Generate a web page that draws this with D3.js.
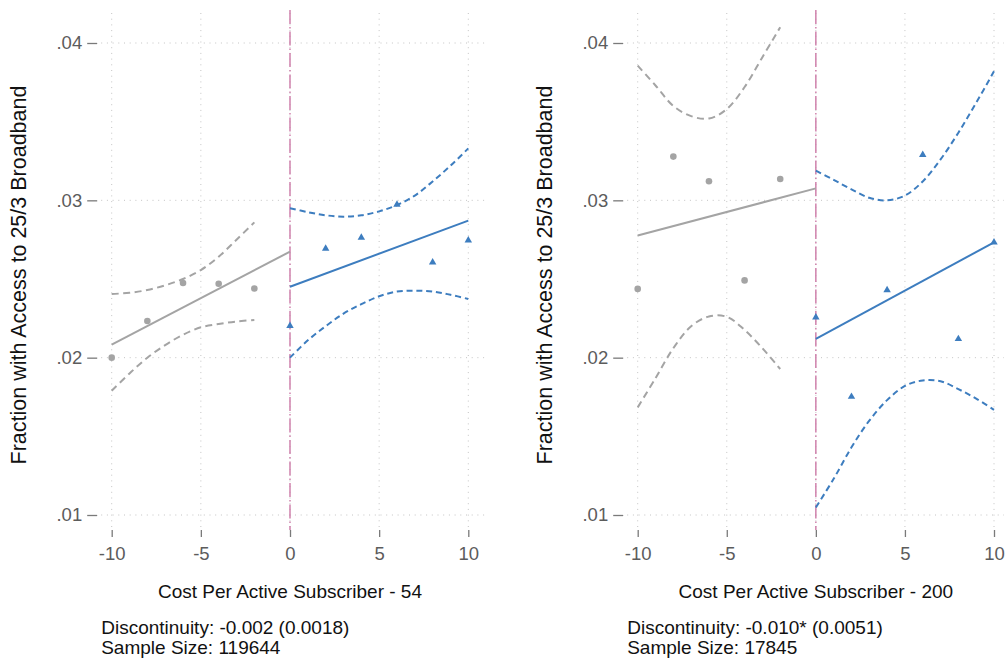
<!DOCTYPE html>
<html>
<head>
<meta charset="utf-8">
<script src="https://cdn.jsdelivr.net/npm/d3@7"></script>
<style>
  html, body { margin: 0; padding: 0; background: #fff; }
  svg { display: block; }
  text { font-family: "Liberation Sans", Arial, Helvetica, sans-serif; }
</style>
</head>
<body>
<svg id="chart" width="1007" height="661"></svg>
<script>
// ---- data ----------------------------------------------------------------
const xTicks = [-10, -5, 0, 5, 10];
const xTickLabels = ["-10", "-5", "0", "5", "10"];
const yTicks = [0.01, 0.02, 0.03, 0.04];
const yTickLabels = [".01", ".02", ".03", ".04"];

const binsBelow = [-10, -8, -6, -4, -2];
const binsAbove = [0, 2, 4, 6, 8, 10];

// Panel A: cost threshold 54
const aMeansBelow = [0.0200, 0.02233, 0.02475, 0.0247, 0.0244];
const aMeansAbove = [0.02203, 0.02693, 0.02763, 0.02973, 0.02606, 0.02746];
const aFitBelow = [[-10, 0.02083], [0, 0.02674]];
const aFitAbove = [[0, 0.02451], [10, 0.02871]];
const aCiBelowX = [-10, -9, -8, -7, -6, -5, -4, -3, -2];
const aCiBelowHi = [0.02405, 0.02412, 0.0243, 0.0246, 0.0250, 0.02557, 0.02642, 0.0275, 0.0286];
const aCiBelowLo = [0.0179, 0.0190, 0.0200, 0.0208, 0.02146, 0.02193, 0.02214, 0.0223, 0.0224];
const aCiAboveX = [0, 1, 2, 3, 4, 5, 6, 7, 8, 9, 10];
const aCiAboveHi = [0.0295, 0.02925, 0.02905, 0.02896, 0.02905, 0.0293, 0.0297, 0.0303, 0.0312, 0.0322, 0.0333];
const aCiAboveLo = [0.0200, 0.0211, 0.0220, 0.0228, 0.0234, 0.0239, 0.0242, 0.02426, 0.0242, 0.0240, 0.02373];

// Panel B: cost threshold 200
const bMeansBelow = [0.02437, 0.03278, 0.03121, 0.02491, 0.03136];
const bMeansAbove = [0.02256, 0.01752, 0.0243, 0.03289, 0.02119, 0.02733];
const bFitBelow = [[-10, 0.02776], [0, 0.03076]];
const bFitAbove = [[0, 0.02119], [10, 0.02733]];
const bCiBelowX = [-10, -9, -8, -7, -6, -5, -4, -3, -2];
const bCiBelowHi = [0.03856, 0.0373, 0.0360, 0.03535, 0.0352, 0.0358, 0.0372, 0.0391, 0.0410];
const bCiBelowLo = [0.01684, 0.0187, 0.0206, 0.0220, 0.02262, 0.0226, 0.02176, 0.0206, 0.01928];
const bCiAboveX = [0, 1, 2, 3, 4, 5, 6, 7, 8, 9, 10];
const bCiAboveHi = [0.03189, 0.0313, 0.0307, 0.03016, 0.0300, 0.0303, 0.0312, 0.0326, 0.0343, 0.0362, 0.0382];
const bCiAboveLo = [0.01048, 0.0123, 0.0143, 0.0160, 0.0173, 0.0182, 0.01855, 0.0185, 0.0180, 0.0174, 0.01668];

const xTitles = ["Cost Per Active Subscriber - 54", "Cost Per Active Subscriber - 200"];
const yTitle = "Fraction with Access to 25/3 Broadband";
const noteLines = [
  ["Discontinuity: -0.002 (0.0018)", "Sample Size: 119644"],
  ["Discontinuity: -0.010* (0.0051)", "Sample Size: 17845"]
];

// ---- style ---------------------------------------------------------------
const GRAY = "#a4a4a4";
const BLUE = "#3d7dbf";
const CUTOFF = "#cc79a7";
const GRID = "#c4c4c4";
const TICK_TEXT = "#5c5c5c";

const svg = d3.select("#chart");

const panels = [
  {
    x0: 111.7, x1: 468.3,
    below: aMeansBelow, above: aMeansAbove,
    fitBelow: aFitBelow, fitAbove: aFitAbove,
    ciBX: aCiBelowX, ciBHi: aCiBelowHi, ciBLo: aCiBelowLo,
    ciAX: aCiAboveX, ciAHi: aCiAboveHi, ciALo: aCiAboveLo,
    xTitle: xTitles[0], notes: noteLines[0]
  },
  {
    x0: 637.7, x1: 994,
    below: bMeansBelow, above: bMeansAbove,
    fitBelow: bFitBelow, fitAbove: bFitAbove,
    ciBX: bCiBelowX, ciBHi: bCiBelowHi, ciBLo: bCiBelowLo,
    ciAX: bCiAboveX, ciAHi: bCiAboveHi, ciALo: bCiAboveLo,
    xTitle: xTitles[1], notes: noteLines[1]
  }
];

panels.forEach(p => {
  const x = d3.scaleLinear().domain([-10, 10]).range([p.x0, p.x1]);
  const y = d3.scaleLinear().domain([0.01, 0.04]).range([515, 43]);
  const left = p.x0 - 10.5;
  const right = Math.min(p.x1 + 17, 1004);
  const top = 10, bottom = 530;

  const g = svg.append("g");

  // dotted grid
  g.append("g").selectAll("line").data(yTicks).join("line")
    .attr("x1", left).attr("x2", right)
    .attr("y1", d => y(d)).attr("y2", d => y(d))
    .attr("stroke", GRID).attr("stroke-width", 1)
    .attr("stroke-dasharray", "1,4.7");
  g.append("g").selectAll("line").data(xTicks).join("line")
    .attr("x1", d => x(d)).attr("x2", d => x(d))
    .attr("y1", top + 3).attr("y2", bottom - 3)
    .attr("stroke", GRID).attr("stroke-width", 1)
    .attr("stroke-dasharray", "1,4.7");

  // y axis
  const yAxis = d3.axisLeft(y).tickValues(yTicks)
    .tickFormat((d, i) => yTickLabels[i]).tickSize(10).tickPadding(5);
  const ya = g.append("g").attr("transform", `translate(${left - 4},0)`).call(yAxis);
  ya.select(".domain").remove();
  ya.selectAll(".tick line").attr("stroke", "#7a7a7a").attr("stroke-width", 1.3);
  ya.selectAll(".tick text").attr("fill", TICK_TEXT).attr("font-size", 18.5)
    .attr("font-family", "Liberation Sans, Arial, sans-serif");

  // x axis
  const xAxis = d3.axisBottom(x).tickValues(xTicks)
    .tickFormat((d, i) => xTickLabels[i]).tickSize(7).tickPadding(10);
  const xa = g.append("g").attr("transform", `translate(0,${bottom})`).call(xAxis);
  xa.select(".domain").remove();
  xa.selectAll(".tick line").attr("stroke", "#7a7a7a").attr("stroke-width", 1.3);
  xa.selectAll(".tick text").attr("fill", TICK_TEXT).attr("font-size", 18.5)
    .attr("font-family", "Liberation Sans, Arial, sans-serif");

  // cutoff line
  g.append("line")
    .attr("x1", x(0)).attr("x2", x(0)).attr("y1", top).attr("y2", bottom)
    .attr("stroke", CUTOFF).attr("stroke-width", 1.4)
    .attr("stroke-dasharray", "14,3,1.5,3");

  const curve = d3.line().x(d => x(d[0])).y(d => y(d[1])).curve(d3.curveCatmullRom.alpha(0.5));
  const straight = d3.line().x(d => x(d[0])).y(d => y(d[1]));

  // confidence bands
  const ciSets = [
    { xs: p.ciBX, ys: p.ciBHi, c: GRAY, dash: "7,4.5" },
    { xs: p.ciBX, ys: p.ciBLo, c: GRAY, dash: "7,4.5" },
    { xs: p.ciAX, ys: p.ciAHi, c: BLUE, dash: "6,3.8" },
    { xs: p.ciAX, ys: p.ciALo, c: BLUE, dash: "6,3.8" }
  ];
  ciSets.forEach(s => {
    g.append("path")
      .attr("d", curve(s.xs.map((v, i) => [v, s.ys[i]])))
      .attr("fill", "none").attr("stroke", s.c).attr("stroke-width", 2)
      .attr("stroke-dasharray", s.dash);
  });

  // fitted lines
  g.append("path").attr("d", straight(p.fitBelow))
    .attr("fill", "none").attr("stroke", GRAY).attr("stroke-width", 2);
  g.append("path").attr("d", straight(p.fitAbove))
    .attr("fill", "none").attr("stroke", BLUE).attr("stroke-width", 2);

  // binned means
  g.append("g").selectAll("circle").data(binsBelow.map((b, i) => [b, p.below[i]])).join("circle")
    .attr("cx", d => x(d[0])).attr("cy", d => y(d[1])).attr("r", 3.3)
    .attr("fill", GRAY);
  const tri = d3.symbol().type(d3.symbolTriangle).size(24);
  g.append("g").selectAll("path").data(binsAbove.map((b, i) => [b, p.above[i]])).join("path")
    .attr("d", tri)
    .attr("transform", d => `translate(${x(d[0])},${y(d[1])})`)
    .attr("fill", BLUE);

  // titles
  g.append("text")
    .attr("x", x(0)).attr("y", 598)
    .attr("text-anchor", "middle").attr("font-size", 19).attr("fill", "#111")
    .text(p.xTitle);

  g.append("text")
    .attr("transform", `translate(${p.x0 - 86},275) rotate(-90)`)
    .attr("text-anchor", "middle").attr("font-size", 21.5).attr("fill", "#111")
    .text(yTitle);

  g.selectAll("text.note").data(p.notes).join("text")
    .attr("class", "note")
    .attr("x", left).attr("y", (d, i) => 634 + i * 19.5)
    .attr("font-size", 19).attr("fill", "#111")
    .text(d => d);
});
</script>
</body>
</html>
